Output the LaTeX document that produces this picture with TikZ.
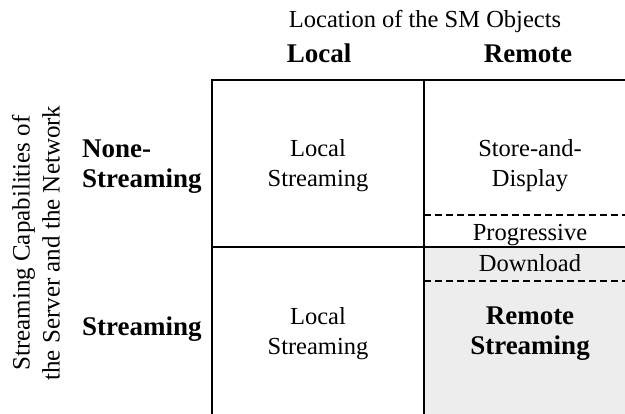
\documentclass[tikz,border=0pt]{standalone}
\usepackage{fontspec}
\setmainfont{Liberation Serif}
\begin{document}
\begin{tikzpicture}[x=1pt,y=-1pt,
  lbl/.style={font=\fontsize{24.5}{30}\selectfont, align=center, inner sep=0pt},
  head/.style={lbl, font=\fontsize{27}{30}\selectfont\bfseries},
  grid/.style={line width=1.8pt},
  split/.style={line width=1.3pt, dash pattern=on 7pt off 4pt}]
\useasboundingbox (0,0) rectangle (625,414);
% shaded cell: remote objects, streaming network
\fill[black!7] (424,247) rectangle (625,414);
% dashed boundaries of the progressive download band
\draw[split] (424,215) -- (625,215);
\draw[split] (424,281) -- (625,281);
% table rules
\draw[grid] (212,414) -- (212,80) -- (625,80);
\draw[grid] (424,80) -- (424,414);
\draw[grid] (212,247) -- (625,247);
% column headings
\node[lbl, anchor=base] (title) at (425,28) {Location of the SM Objects};
\node[head, anchor=base] (colL) at (319,63) {Local};
\node[head, anchor=base] (colR) at (528,63) {Remote};
% row headings
\node[lbl, rotate=90, font=\fontsize{25}{30}\selectfont] (axis) at (36,243) {Streaming Capabilities of\\the Server and the Network};
\node[head, align=left, anchor=west] (rowN) at (82,167) {None-\\Streaming};
\node[head, anchor=west] (rowS) at (82,329) {Streaming};
% cell contents
\node[lbl] (c11) at (318,166) {Local\\Streaming};
\node[lbl] (c12) at (530,166) {Store-and-\\Display};
\node[lbl] (prog) at (530,235) {Progressive};
\node[lbl] (down) at (530,263) {Download};
\node[lbl] (c21) at (318,334) {Local\\Streaming};
\node[head] (c22) at (530,334) {Remote\\Streaming};
\end{tikzpicture}
\end{document}
